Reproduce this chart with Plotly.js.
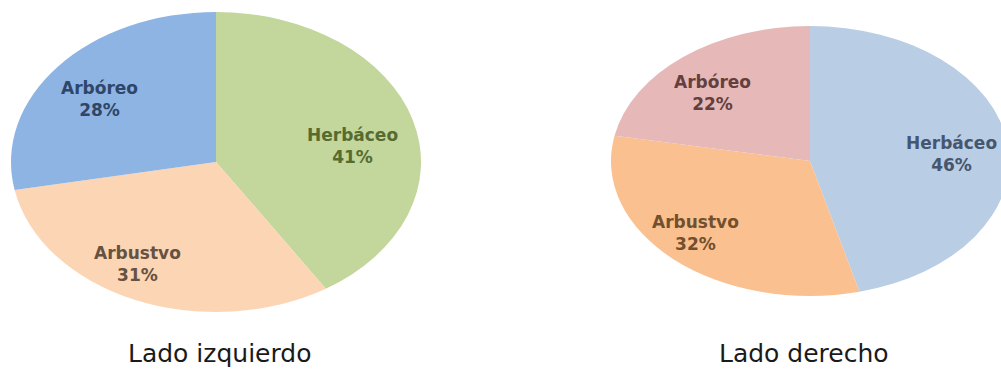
<!DOCTYPE html>
<html>
<head>
<meta charset="utf-8">
<script src="https://cdn.plot.ly/plotly-3.0.1.min.js"></script>
<style>
  html, body { margin: 0; padding: 0; background: #ffffff; }
  #chart { width: 1001px; height: 369px; }
</style>
</head>
<body>
<div id="chart"></div>
<script>
// ---- data ----
const categoriesLeft  = ["Herbáceo", "Arbustvo", "Arbóreo"];
const valuesLeft      = [41, 31, 28];
const categoriesRight = ["Herbáceo", "Arbustvo", "Arbóreo"];
const valuesRight     = [46, 32, 22];
const chartTitles     = ["Lado izquierdo", "Lado derecho"];

// ---- styles ----
const colorsLeft      = ["#C3D69B", "#FCD5B5", "#8EB4E3"];
const colorsRight     = ["#B9CDE5", "#FAC090", "#E6B9B8"];
const textColorsLeft  = ["#566B30", "#665242", "#2E4668"];
const textColorsRight = ["#46566E", "#72502E", "#643F3F"];

// ---- layout geometry (pixels) ----
const W = 1001, H = 369;
const pieGeom = [
  {cx: 216, cy: 162, rx: 205, ry: 150},
  {cx: 810, cy: 161, rx: 199, ry: 135}
];
const labelPosLeft  = [[352, 146], [137, 264], [99, 99]];
const labelPosRight = [[951, 154], [695, 233], [712, 93]];
const titlePos      = [[219, 353], [804, 353]];

function domainFor(g) {
  return {
    x: [(g.cx - g.ry) / W, (g.cx + g.ry) / W],
    y: [(H - (g.cy + g.ry)) / H, (H - (g.cy - g.ry)) / H]
  };
}

function pieTrace(labels, values, colors, geom) {
  return {
    type: "pie",
    labels: labels,
    values: values,
    sort: false,
    direction: "clockwise",
    rotation: 0,
    textinfo: "none",
    hoverinfo: "skip",
    showlegend: false,
    marker: {colors: colors, line: {width: 0}},
    domain: domainFor(geom)
  };
}

const traces = [
  pieTrace(categoriesLeft, valuesLeft, colorsLeft, pieGeom[0]),
  pieTrace(categoriesRight, valuesRight, colorsRight, pieGeom[1])
];

const annotations = [];
function addLabels(labels, values, pos, colors) {
  const total = values.reduce((a, b) => a + b, 0);
  labels.forEach((lab, i) => {
    const pct = Math.round(values[i] / total * 100);
    annotations.push({
      xref: "paper", yref: "paper",
      x: pos[i][0] / W, y: (H - pos[i][1]) / H,
      xanchor: "center", yanchor: "middle",
      showarrow: false,
      align: "center",
      text: lab + "<br>" + pct + "%",
      font: {family: "DejaVu Sans, Verdana, sans-serif", size: 17, color: colors[i], weight: 700}
    });
  });
}
addLabels(categoriesLeft, valuesLeft, labelPosLeft, textColorsLeft);
addLabels(categoriesRight, valuesRight, labelPosRight, textColorsRight);

chartTitles.forEach((t, i) => {
  annotations.push({
    xref: "paper", yref: "paper",
    x: titlePos[i][0] / W, y: (H - titlePos[i][1]) / H,
    xanchor: "center", yanchor: "middle",
    showarrow: false,
    text: t,
    font: {family: "DejaVu Sans, Verdana, sans-serif", size: 25, color: "#1a1a1a"}
  });
});

const layout = {
  width: W, height: H,
  margin: {l: 0, r: 0, t: 0, b: 0, pad: 0},
  paper_bgcolor: "#ffffff",
  plot_bgcolor: "#ffffff",
  showlegend: false,
  annotations: annotations
};

Plotly.newPlot("chart", traces, layout, {staticPlot: true, displayModeBar: false}).then(gd => {
  // stretch each pie horizontally into an ellipse, as in the original chart
  const groups = gd.querySelectorAll(".pielayer .trace");
  groups.forEach((g, i) => {
    const geo = pieGeom[i];
    const s = geo.rx / geo.ry;
    const prev = g.getAttribute("transform") || "";
    g.setAttribute("transform",
      "translate(" + geo.cx + ",0) scale(" + s + ",1) translate(" + (-geo.cx) + ",0) " + prev);
  });
});
</script>
</body>
</html>
